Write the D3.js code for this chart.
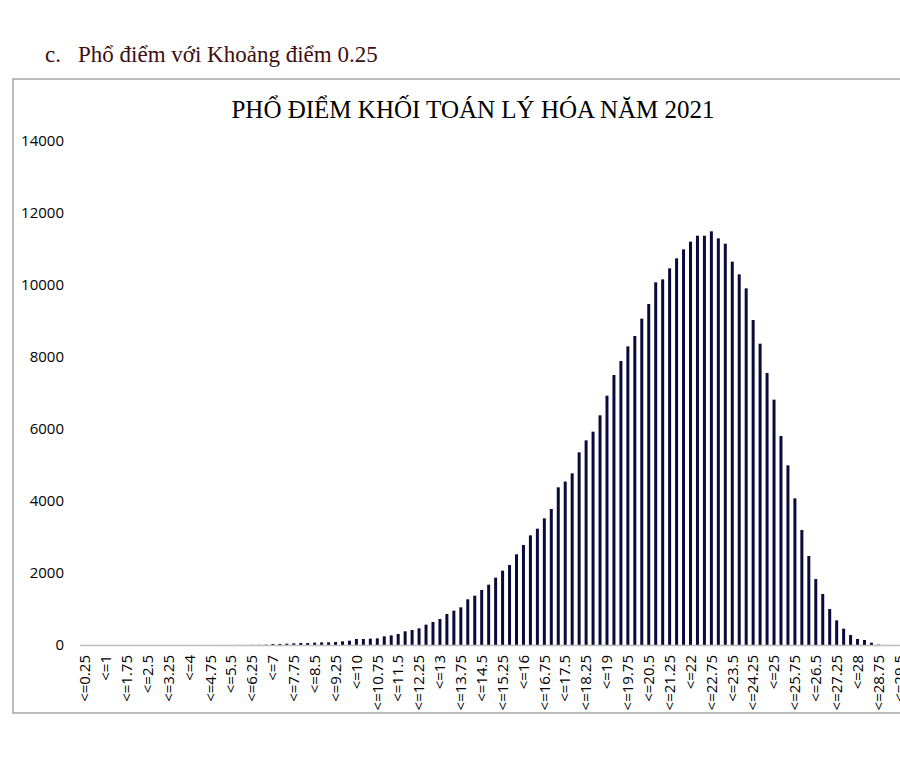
<!DOCTYPE html>
<html>
<head>
<meta charset="utf-8">
<script src="https://cdn.jsdelivr.net/npm/d3@7"></script>
<style>
  body { margin: 0; background: #fff; }
  .chart-container { width: 900px; height: 763px; overflow: hidden; }
</style>
</head>
<body>
<div class="chart-container"></div>
<script>
// categories, one for every 0.25 of the score
const categories = [
  "<=0.25","<=0.5","<=0.75","<=1","<=1.25","<=1.5","<=1.75","<=2","<=2.25","<=2.5","<=2.75","<=3",
  "<=3.25","<=3.5","<=3.75","<=4","<=4.25","<=4.5","<=4.75","<=5","<=5.25","<=5.5","<=5.75","<=6",
  "<=6.25","<=6.5","<=6.75","<=7","<=7.25","<=7.5","<=7.75","<=8","<=8.25","<=8.5","<=8.75","<=9",
  "<=9.25","<=9.5","<=9.75","<=10","<=10.25","<=10.5","<=10.75","<=11","<=11.25","<=11.5","<=11.75","<=12",
  "<=12.25","<=12.5","<=12.75","<=13","<=13.25","<=13.5","<=13.75","<=14","<=14.25","<=14.5","<=14.75","<=15",
  "<=15.25","<=15.5","<=15.75","<=16","<=16.25","<=16.5","<=16.75","<=17","<=17.25","<=17.5","<=17.75","<=18",
  "<=18.25","<=18.5","<=18.75","<=19","<=19.25","<=19.5","<=19.75","<=20","<=20.25","<=20.5","<=20.75","<=21",
  "<=21.25","<=21.5","<=21.75","<=22","<=22.25","<=22.5","<=22.75","<=23","<=23.25","<=23.5","<=23.75","<=24",
  "<=24.25","<=24.5","<=24.75","<=25","<=25.25","<=25.5","<=25.75","<=26","<=26.25","<=26.5","<=26.75","<=27",
  "<=27.25","<=27.5","<=27.75","<=28","<=28.25","<=28.5","<=28.75","<=29","<=29.25","<=29.5","<=29.75","<=30"
];

// number of candidates in each category
const counts = [
  0, 0, 0, 0, 0, 0, 0, 0, 0, 0, 0, 0,
  0, 0, 0, 0, 0, 0, 0, 0, 1, 0, 2, 3,
  4, 6, 10, 28, 30, 37, 46, 56, 56, 65, 74, 74,
  83, 102, 120, 167, 167, 176, 185, 241, 268, 306, 380, 417,
  463, 565, 639, 722, 861, 954, 1046, 1269, 1370, 1528, 1676, 1870,
  2065, 2222, 2519, 2778, 3046, 3231, 3519, 3778, 4380, 4540, 4769, 5352,
  5685, 5926, 6380, 6926, 7500, 7889, 8296, 8583, 9065, 9472, 10074, 10157,
  10463, 10741, 10991, 11204, 11370, 11370, 11491, 11296, 11148, 10648, 10296, 9907,
  9028, 8370, 7556, 6815, 5806, 4991, 4074, 3194, 2472, 1833, 1417, 1000,
  685, 454, 278, 167, 139, 65, 10, 2, 1, 0, 0, 0
];

const yTicks = [0, 2000, 4000, 6000, 8000, 10000, 12000, 14000];

const heading = "c.";
const headingText = "Phổ điểm với Khoảng điểm 0.25";
const chartTitle = "PHỔ ĐIỂM KHỐI TOÁN LÝ HÓA NĂM 2021";

const data = categories.map((c, i) => ({ label: c, value: counts[i] }));

const svg = d3.select(".chart-container")
    .append("svg")
    .attr("width", 900)
    .attr("height", 763);

svg.append("rect")            // white page
    .attr("width", 900)
    .attr("height", 763)
    .attr("fill", "#fff");

// the heading above the chart box
svg.append("text")
    .attr("x", 45)
    .attr("y", 62)
    .attr("fill", "#3e0f0f")
    .style("font-family", "'Liberation Serif', 'DejaVu Serif', serif")
    .style("font-size", "23px")
    .text(heading);

svg.append("text")
    .attr("x", 78)
    .attr("y", 62)
    .attr("fill", "#3e0f0f")
    .style("font-family", "'Liberation Serif', 'DejaVu Serif', serif")
    .style("font-size", "23px")
    .text(headingText);

// chart frame, runs off the right edge like the screenshot
svg.append("rect")
    .attr("x", 13)
    .attr("y", 79)
    .attr("width", 920)
    .attr("height", 634)
    .attr("fill", "none")
    .attr("stroke", "#a6a6a6")
    .attr("stroke-width", 1.5);

svg.append("text")
    .attr("x", 473)
    .attr("y", 118)
    .attr("text-anchor", "middle")
    .attr("fill", "#000")
    .style("font-family", "'Liberation Serif', 'DejaVu Serif', serif")
    .style("font-size", "25px")
    .text(chartTitle);

const xScale = d3.scaleBand()
    .domain(categories)
    .range([81.5, 81.5 + 120 * 6.96])
    .paddingInner(0.57)
    .paddingOuter(0.285);

const yScale = d3.scaleLinear()
    .domain([0, 14000])
    .range([645, 141]);

// bars
svg.selectAll("rect.bar")
    .data(data)
    .join("rect")
        .attr("class", "bar")
        .attr("x", d => xScale(d.label))
        .attr("y", d => yScale(d.value))
        .attr("width", xScale.bandwidth())
        .attr("height", d => yScale(0) - yScale(d.value))
        .attr("fill", "#0b0b3b");

// y axis: labels only, no line
const yAxis = svg.append("g")
    .attr("transform", "translate(70,0)")
    .call(d3.axisLeft(yScale).tickValues(yTicks).tickSize(0).tickPadding(6).tickFormat(d3.format("d")));
yAxis.select(".domain").remove();
yAxis.selectAll("text")
    .attr("fill", "#000")
    .style("font-family", "'Open Sans', sans-serif")
    .style("font-size", "15px");

// x axis: every third category gets a label
const xAxis = svg.append("g")
    .attr("transform", "translate(0,645)")
    .call(d3.axisBottom(xScale)
        .tickValues(categories.filter((c, i) => i % 3 === 0))
        .tickSize(0)
        .tickPadding(0));
xAxis.select(".domain")
    .attr("d", "M80,0.5H" + (81.5 + 120 * 6.96))
    .attr("stroke", "#bfbfbf")
    .attr("stroke-width", 1.5);
xAxis.selectAll("text")
    .attr("transform", "rotate(-90)")
    .attr("text-anchor", "end")
    .attr("x", -10)
    .attr("y", 0)
    .attr("dy", "0.35em")
    .attr("fill", "#000")
    .style("font-family", "'Open Sans', sans-serif")
    .style("font-size", "15px");
</script>
</body>
</html>
